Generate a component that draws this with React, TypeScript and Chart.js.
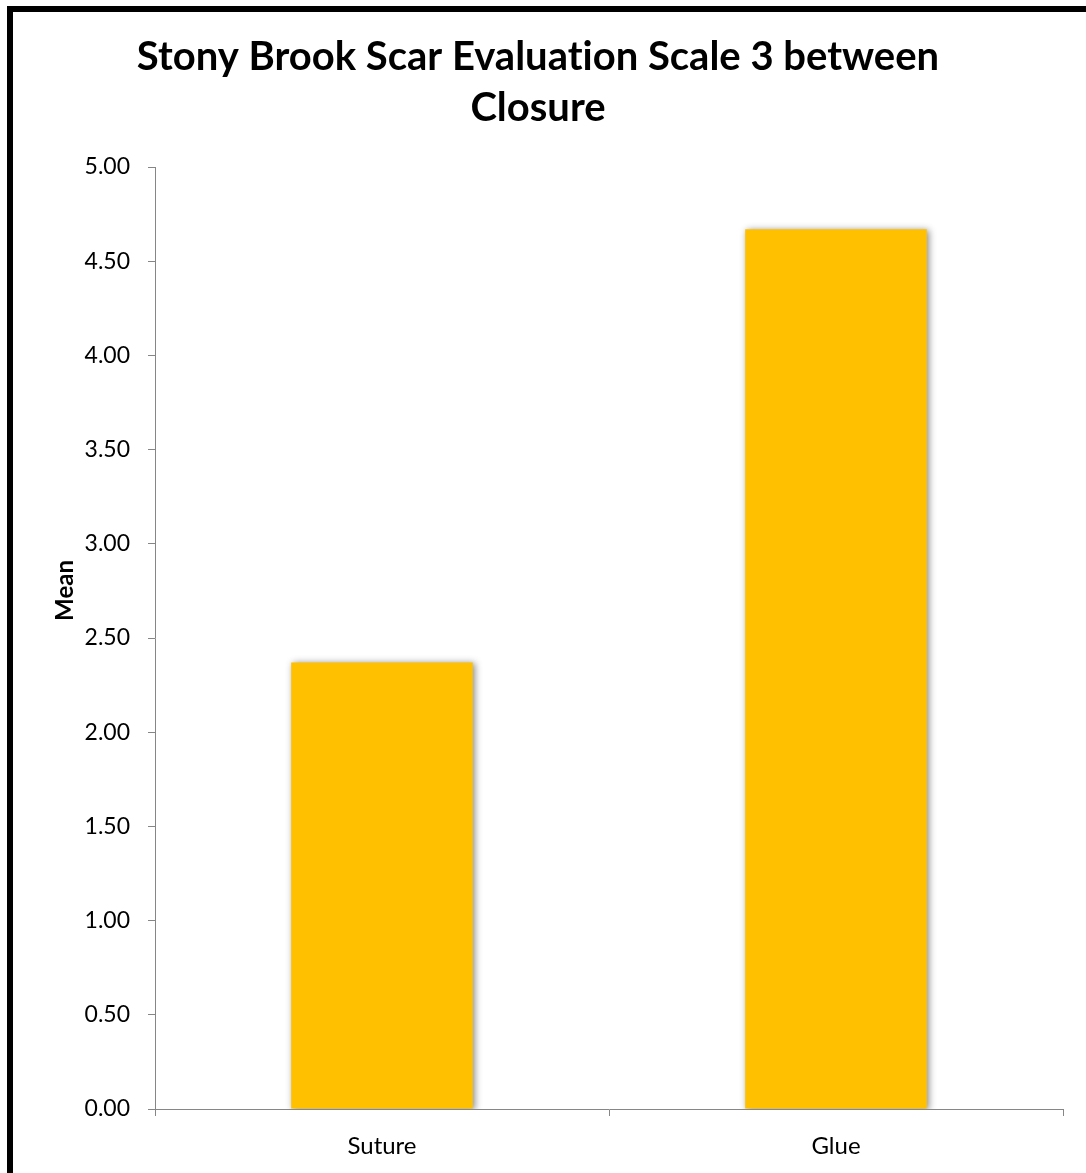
import { useEffect, useRef } from 'react';
import { Chart, registerables } from 'chart.js';

Chart.register(...registerables);

const categories = ['Suture', 'Glue'];
const meanValues = [2.37, 4.67];
const titleLines = ['Stony Brook Scar Evaluation Scale 3 between', 'Closure'];
const yAxisTitle = 'Mean';
const yMin = 0;
const yMax = 5;
const yStep = 0.5;

const CANVAS_W = 1073;
const CANVAS_H = 1161;
const AXIS_GRAY = '#868686';
const BAR_GOLD = '#FFC000';
const FONT = 'Lato, "Open Sans", sans-serif';

// Plain glyphs (no "ti" ligatures) for every label on the canvas
const plainText = {
  id: 'plainText',
  beforeDraw(chart: any) {
    chart.ctx.textRendering = 'optimizeSpeed';
  },
};

// Soft drop shadow under the bars
const barShadow = {
  id: 'barShadow',
  beforeDatasetsDraw(chart: any) {
    const ctx = chart.ctx;
    ctx.save();
    ctx.shadowColor = 'rgba(0,0,0,0.45)';
    ctx.shadowBlur = 7;
    ctx.shadowOffsetX = 2;
    ctx.shadowOffsetY = 1;
  },
  afterDatasetsDraw(chart: any) {
    chart.ctx.restore();
  },
};

// Vertical value-axis caption, centred on the whole chart's height
const valueAxisCaption = {
  id: 'valueAxisCaption',
  afterDraw(chart: any) {
    const ctx = chart.ctx;
    ctx.save();
    ctx.textRendering = 'optimizeSpeed';
    ctx.translate(52, chart.height / 2 - 2);
    ctx.rotate(-Math.PI / 2);
    ctx.fillStyle = '#000';
    ctx.font = `bold 24px ${FONT}`;
    ctx.textAlign = 'center';
    ctx.textBaseline = 'middle';
    ctx.fillText(yAxisTitle, 0, 0);
    ctx.restore();
  },
};

export default function App() {
  const canvasRef = useRef<HTMLCanvasElement | null>(null);

  useEffect(() => {
    if (!canvasRef.current) return;
    const chart = new Chart(canvasRef.current, {
      type: 'bar',
      data: {
        labels: categories,
        datasets: [
          {
            data: meanValues,
            backgroundColor: BAR_GOLD,
            borderWidth: 0,
            categoryPercentage: 1,
            barPercentage: 0.4,
          },
        ],
      },
      plugins: [plainText, barShadow, valueAxisCaption],
      options: {
        responsive: false,
        animation: false,
        devicePixelRatio: 1,
        layout: { padding: { left: 0, right: 23, top: 0, bottom: 0 } },
        plugins: {
          legend: { display: false },
          tooltip: { enabled: false },
          title: {
            display: true,
            text: titleLines,
            color: '#000',
            font: { family: FONT, size: 40, weight: 'bold', lineHeight: 1.275 },
            padding: { top: 19.5, bottom: 33.5 },
          },
        },
        scales: {
          x: {
            z: 1,
            grid: {
              display: true,
              drawOnChartArea: false,
              drawTicks: true,
              tickLength: 7,
              color: AXIS_GRAY,
              offset: true,
            },
            border: { display: true, color: AXIS_GRAY, width: 1 },
            ticks: {
              color: '#000',
              padding: 16,
              font: { family: FONT, size: 24 },
            },
            afterFit(scale: any) {
              scale.height = 64;
            },
          },
          y: {
            min: yMin,
            max: yMax,
            grid: {
              display: true,
              drawOnChartArea: false,
              drawTicks: true,
              tickLength: 7,
              color: AXIS_GRAY,
            },
            border: { display: true, color: AXIS_GRAY, width: 1 },
            ticks: {
              stepSize: yStep,
              color: '#000',
              padding: 18,
              font: { family: FONT, size: 23 },
              callback: (v: any) => Number(v).toFixed(2),
            },
            afterFit(scale: any) {
              scale.width = 142;
            },
          },
        },
      },
    });
    return () => chart.destroy();
  }, []);

  return (
    <div
      style={{
        position: 'fixed',
        left: 7,
        top: 6,
        borderTop: '6px solid #000',
        borderLeft: '6px solid #000',
        width: CANVAS_W,
        height: CANVAS_H,
        background: '#fff',
      }}
    >
      <canvas
        ref={canvasRef}
        width={CANVAS_W}
        height={CANVAS_H}
        style={{ display: 'block', width: CANVAS_W, height: CANVAS_H }}
      />
    </div>
  );
}
